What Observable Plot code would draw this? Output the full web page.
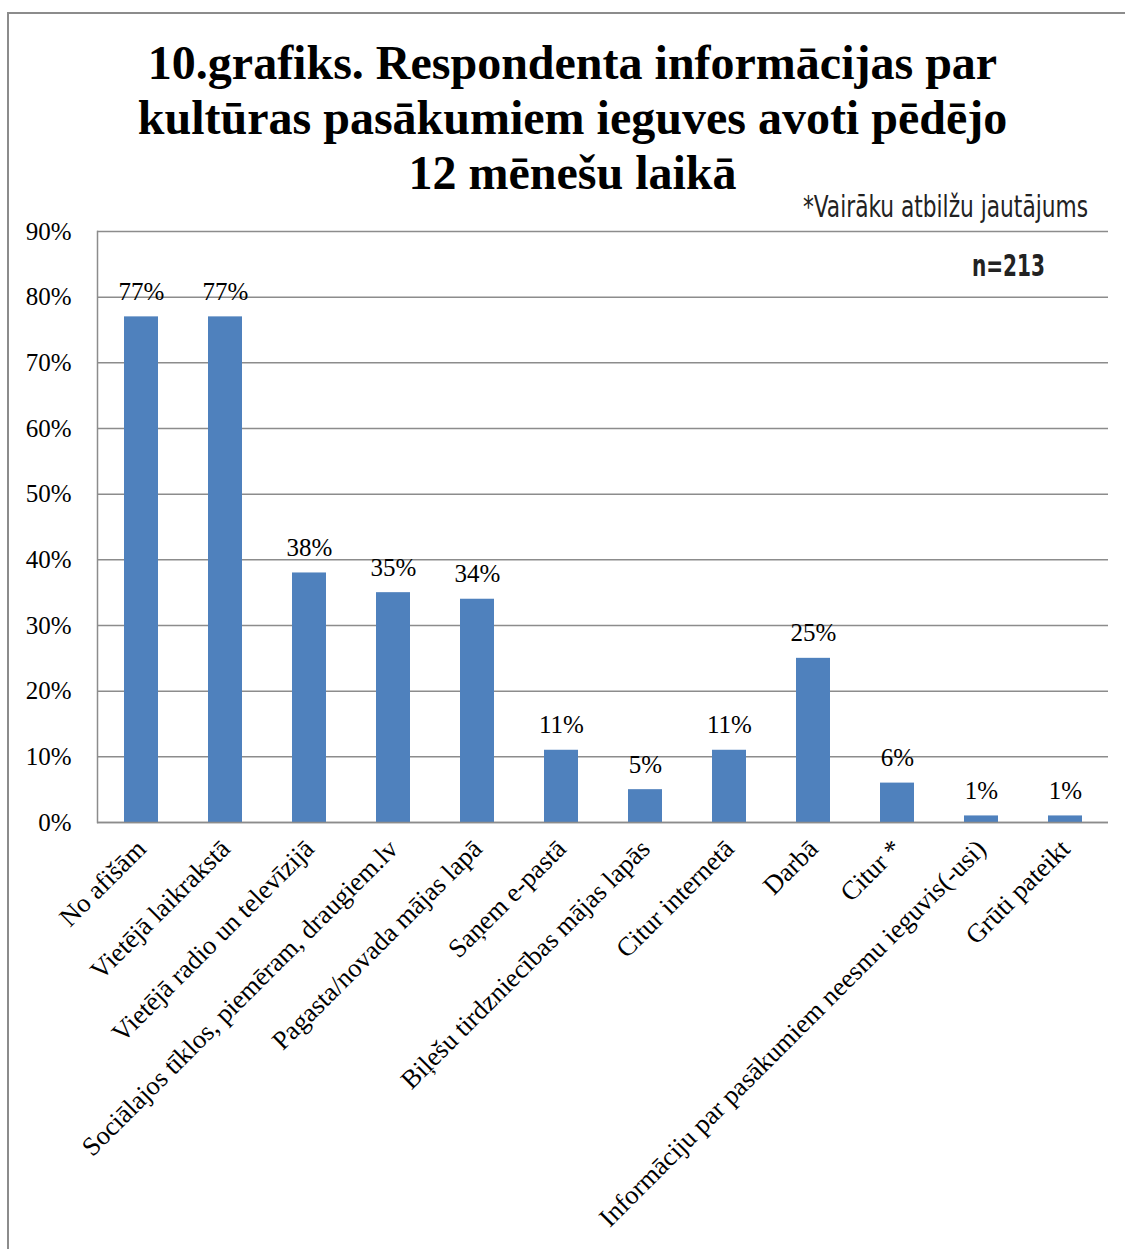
<!DOCTYPE html>
<html>
<head>
<meta charset="utf-8">
<script src="https://cdn.jsdelivr.net/npm/d3@7"></script>
<script src="https://cdn.jsdelivr.net/npm/@observablehq/plot@0.6"></script>
<style>
  html, body { margin: 0; padding: 0; background: #fff; }
  #wrap { position: relative; width: 1125px; height: 1249px; overflow: hidden; }
  #border { position: absolute; left: 7px; top: 12px; width: 1200px; height: 1300px;
            border-left: 2px solid #8c8c8c; border-top: 2px solid #8c8c8c; box-sizing: border-box; }
  #title { position: absolute; left: 0; top: 35px; width: 1145px; text-align: center;
           font-family: "Liberation Serif", "Times New Roman", serif; font-weight: bold; font-size: 48px; line-height: 55px; color: #000; }
  .fit { position: absolute; white-space: nowrap; transform-origin: 0 0;
         font-family: "Liberation Sans Narrow", "DejaVu Sans Condensed", sans-serif; color: #222; }
  #note { left: 803px; top: 189px; font-size: 30px; }
  #n { left: 972px; top: 248px; font-size: 30px; font-weight: bold; }
  #chart { position: absolute; left: 0; top: 0; }
  #chart svg text { font-family: "Liberation Serif", "Times New Roman", serif; }
</style>
</head>
<body>
<div id="wrap">
  <div id="chart"></div>
  <div id="border"></div>
  <div id="title">10.grafiks. Respondenta informācijas par<br>kultūras pasākumiem ieguves avoti pēdējo<br>12 mēnešu laikā</div>
  <div id="note" class="fit" data-w="285">*Vairāku atbilžu jautājums</div>
  <div id="n" class="fit" data-w="73">n=213</div>
</div>
<script>
const categories = [
  "No afišām",
  "Vietējā laikrakstā",
  "Vietējā radio un televīzijā",
  "Sociālajos tīklos, piemēram, draugiem.lv",
  "Pagasta/novada mājas lapā",
  "Saņem e-pastā",
  "Biļešu tirdzniecības mājas lapās",
  "Citur internetā",
  "Darbā",
  "Citur *",
  "Informāciju par pasākumiem neesmu ieguvis(-usi)",
  "Grūti pateikt"
];
const values = [0.77, 0.77, 0.38, 0.35, 0.34, 0.11, 0.05, 0.11, 0.25, 0.06, 0.01, 0.01];
const yTicks = [0, 0.1, 0.2, 0.3, 0.4, 0.5, 0.6, 0.7, 0.8, 0.9];

const data = categories.map((c, i) => ({cat: c, val: values[i]}));
const serif = "'Liberation Serif', 'Times New Roman', serif";

const chart = Plot.plot({
  width: 1125,
  height: 1249,
  marginTop: 231,
  marginLeft: 97,
  marginRight: 17,
  marginBottom: 427,
  style: {fontFamily: serif, color: "#000", background: "transparent"},
  x: {domain: categories, paddingInner: 0.6, paddingOuter: 0.3, label: null},
  y: {domain: [0, 0.9], label: null},
  marks: [
    Plot.gridY(yTicks, {stroke: "#8c8c8c", strokeOpacity: 1, strokeWidth: 1.5}),
    Plot.barY(data, {x: "cat", y: "val", fill: "#4F81BD"}),
    Plot.ruleY([0], {stroke: "#8c8c8c", strokeWidth: 1.5}),
    Plot.frame({anchor: "left", stroke: "#8c8c8c", strokeWidth: 1.5}),
    Plot.axisY(yTicks, {tickSize: 0, tickPadding: 26, fontSize: 25, fontFamily: serif, fill: "#000",
                        tickFormat: d => Math.round(d * 100) + "%", label: null}),
    Plot.axisX({tickSize: 0, tickRotate: -45, tickPadding: 22, fontSize: 26.5, fontFamily: serif, fill: "#000", label: null}),
    Plot.text(data, {x: "cat", y: "val", text: d => Math.round(d.val * 100) + "%", lineAnchor: "bottom",
                     dy: -17, fontSize: 25, fontFamily: serif, fill: "#000"})
  ]
});
document.getElementById("chart").appendChild(chart);

document.querySelectorAll(".fit").forEach(el => {
  const target = +el.dataset.w;
  const w = el.getBoundingClientRect().width;
  if (w > 0) el.style.transform = `scaleX(${target / w})`;
});
</script>
</body>
</html>
